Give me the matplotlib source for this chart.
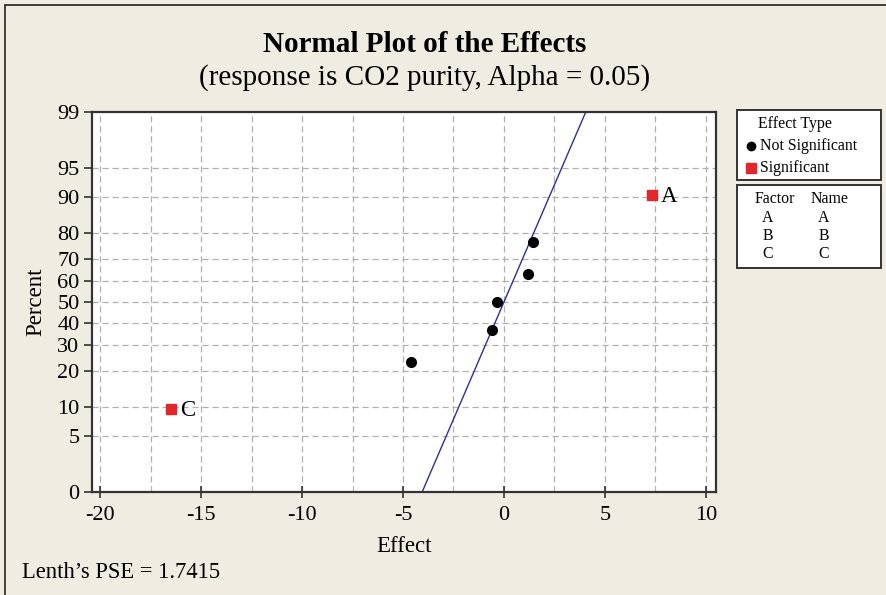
import numpy as np
import matplotlib
matplotlib.use('Agg')
import matplotlib.pyplot as plt
from matplotlib.patches import Rectangle
from statistics import NormalDist

plt.rcParams['font.family'] = 'Liberation Serif'
plt.rcParams['axes.unicode_minus'] = False

### Data
ns_effect = [-4.58, -0.58, -0.33, 1.17, 1.45]
ns_percent = [23.0, 36.5, 50.0, 63.5, 77.0]
sig_effect = [-16.5, 7.33]
sig_percent = [9.5, 90.5]
sig_names = ['C', 'A']
pse = 1.7415
y_ticks = [1, 5, 10, 20, 30, 40, 50, 60, 70, 80, 90, 95, 99]
y_labels = ['0', '5', '10', '20', '30', '40', '50', '60', '70', '80', '90', '95', '99']
x_ticks = [-20, -15, -10, -5, 0, 5, 10]

nd = NormalDist()
def z(p):
    return np.array([nd.inv_cdf(v / 100.) for v in np.atleast_1d(p)])

bg = '#efece2'
fig = plt.figure(figsize=(8.87, 5.95), dpi=100)
fig.patch.set_facecolor(bg)
ax = fig.add_axes([92/887, 1 - 492/595, 624/887, 380/595])
ax.set_facecolor('white')

### grid
for gx in np.arange(-20, 10.1, 2.5):
    ax.axvline(gx, color='#b0b0b0', ls=(0, (5, 3)), lw=0.9, zorder=0)
for p in y_ticks[1:-1]:
    ax.axhline(z(p)[0], color='#b0b0b0', ls=(0, (5, 3)), lw=0.9, zorder=0)

### fitted line, sigma = Lenth's PSE
zl = z([1, 99])
ax.plot(pse * zl, zl, color='#2e2e9e', lw=1.0, zorder=2)

ax.plot(ns_effect, z(ns_percent), 'o', color='black', ms=7, zorder=3)
ax.plot(sig_effect, z(sig_percent), 's', color='#e3262b', ms=7, zorder=3)
for ex, p, nm in zip(sig_effect, sig_percent, sig_names):
    ax.text(ex + 0.45, z(p)[0] - 0.02, nm, fontsize=16.5, va='center', ha='left')

ax.set_xlim(-20.4, 10.5)
ax.set_ylim(z(1)[0], z(99)[0])
ax.set_xticks(x_ticks)
ax.set_xticks(np.arange(-17.5, 10, 5), minor=True)
ax.set_yticks(z(y_ticks))
ax.set_yticklabels(y_labels)
ax.tick_params(axis='both', labelsize=16, width=1.2, color='#333333')
ax.tick_params(axis='x', direction='inout', length=8, pad=6)
ax.tick_params(axis='x', which='minor', direction='in', length=4, color='#bbbbbb')
ax.tick_params(axis='y', direction='out', length=6, pad=3)
for s in ax.spines.values():
    s.set_linewidth(1.6)
    s.set_color('#333333')

ax.set_xlabel('Effect', fontsize=16.5, labelpad=8)
ax.set_ylabel('Percent', fontsize=16.5, labelpad=8)

fig.text(425/887, 1 - 45/595, 'Normal Plot of the Effects', fontsize=21,
         fontweight='bold', ha='center', va='center')
fig.text(425/887, 1 - 78/595, '(response is CO2 purity, Alpha = 0.05)',
         fontsize=21, ha='center', va='center')
fig.text(22/887, 1 - 573/595, 'Lenth\u2019s PSE = 1.7415', fontsize=16.3,
         ha='left', va='center')

### outer frame (top and left edges visible)
fig.patches.append(Rectangle((5/887, -0.1), 1.2, 1 - 5/595 + 0.1,
                             transform=fig.transFigure, fill=False,
                             ec='#222222', lw=1.2))

### legend boxes
def fbox(x0, y0, x1, y1):
    fig.patches.append(Rectangle((x0/887, 1 - y1/595), (x1 - x0)/887,
                                 (y1 - y0)/595, transform=fig.transFigure,
                                 fc='white', ec='#333333', lw=1.4))

lfs = 11.4
fbox(737, 110, 881, 180)
fbox(737, 185, 881, 268)
fig.text(795/887, 1 - 124/595, 'Effect Type', fontsize=lfs, ha='center', va='center')
fig.lines.append(plt.Line2D([751/887], [1 - 146/595], marker='o', color='black',
                            ms=6, transform=fig.transFigure))
fig.text(760/887, 1 - 146/595, 'Not Significant', fontsize=lfs, va='center')
fig.lines.append(plt.Line2D([751/887], [1 - 168/595], marker='s', color='#e3262b',
                            ms=6.5, transform=fig.transFigure))
fig.text(760/887, 1 - 168/595, 'Significant', fontsize=lfs, va='center')
fig.text(775/887, 1 - 199/595, 'Factor', fontsize=lfs, ha='center', va='center')
fig.text(830/887, 1 - 199/595, 'Name', fontsize=lfs, ha='center', va='center')
for i, f in enumerate(['A', 'B', 'C']):
    fig.text(768/887, 1 - (218 + 18*i)/595, f, fontsize=lfs, ha='center', va='center')
    fig.text(824/887, 1 - (218 + 18*i)/595, f, fontsize=lfs, ha='center', va='center')

fig.savefig('out.png', dpi=100, facecolor=bg)
